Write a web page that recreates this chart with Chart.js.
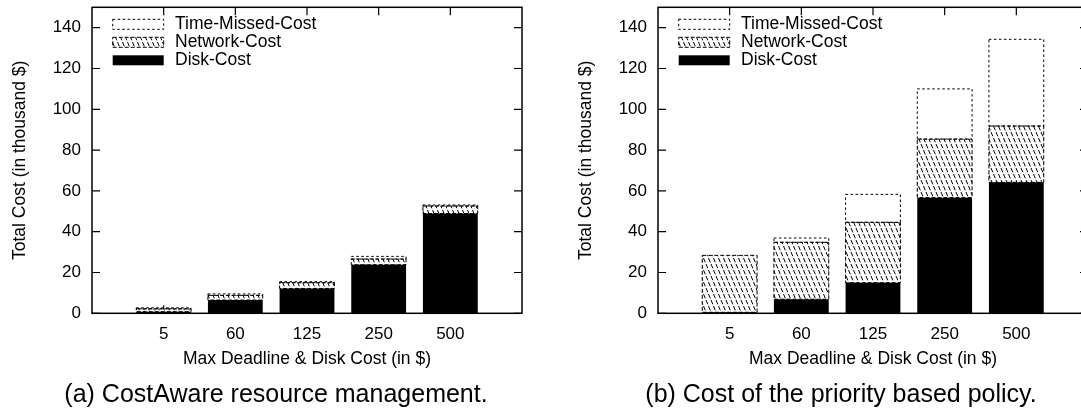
<!DOCTYPE html>
<html>
<head>
<meta charset="utf-8">
<script src="https://cdn.jsdelivr.net/npm/chart.js@4.4.1/dist/chart.umd.min.js"></script>
<style>
  html, body { margin: 0; padding: 0; background: #fff; }
  body { width: 1081px; height: 411px; overflow: hidden; position: relative; font-family: 'Liberation Sans', Arial, sans-serif; }
  canvas { position: absolute; top: 0; }
  #chart-a { left: 0; }
  #chart-b { left: 566px; }
  .caption { position: absolute; top: 378px; width: 540px; text-align: center; font-size: 25px; line-height: 30px; color: #000; white-space: nowrap; }
</style>
</head>
<body>
<canvas id="chart-a" width="540" height="411"></canvas>
<canvas id="chart-b" width="540" height="411"></canvas>
<div class="caption" style="left:6px">(a) CostAware resource management.</div>
<div class="caption" style="left:571px">(b) Cost of the priority based policy.</div>
<script>
const categories = ['5', '60', '125', '250', '500'];
const yTicks = [0, 20, 40, 60, 80, 100, 120, 140];
const seriesNames = ['Disk-Cost', 'Network-Cost', 'Time-Missed-Cost'];

// (a) CostAware resource management (thousand $)
const diskA = [0.8, 6.5, 12.2, 23.8, 48.9];
const networkA = [1.4, 2.3, 2.8, 2.8, 3.7];
const timeA = [0.5, 0.7, 0.5, 1.3, 0.5];

// (b) priority based policy (thousand $)
const diskB = [0.5, 6.9, 15.0, 56.7, 64.2];
const networkB = [27.9, 27.9, 29.6, 28.7, 27.6];
const timeB = [0, 2.1, 13.7, 24.6, 42.5];

const FONT = "'Liberation Sans', Arial, Helvetica, sans-serif";

// steep "\\\\" hatch with dashed strokes, like the gnuplot fill pattern
function hatchPattern() {
  const c = document.createElement('canvas');
  c.width = 10; c.height = 24;
  const g = c.getContext('2d');
  g.fillStyle = '#fff';
  g.fillRect(0, 0, 10, 24);
  g.strokeStyle = '#000';
  g.lineWidth = 1;
  const seg = Math.hypot(10, 24) / 4;
  g.setLineDash([seg * 0.72, seg * 0.28]);
  for (let k = -10; k <= 10; k += 5) {
    g.beginPath(); g.moveTo(k, 0); g.lineTo(k + 10, 24); g.stroke();
  }
  return g.createPattern(c, 'repeat');
}
const hatch = hatchPattern();

// frame, inward ticks, dashed bar outlines and the key inside the plot
const costPlot = {
  id: 'costPlot',
  beforeDatasetsDraw(chart) {
    const { ctx, chartArea: a, scales: { x } } = chart;
    ctx.save();
    ctx.strokeStyle = '#000';
    ctx.lineWidth = 1.2;
    categories.forEach((c, i) => {
      const px = x.getPixelForValue(i + 1);
      ctx.beginPath();
      ctx.moveTo(px, a.bottom); ctx.lineTo(px, a.bottom - 8);
      ctx.moveTo(px, a.top); ctx.lineTo(px, a.top + 8);
      ctx.stroke();
    });
    ctx.restore();
  },
  afterDatasetsDraw(chart) {
    const { ctx, chartArea: a, scales: { y } } = chart;
    ctx.save();
    ctx.strokeStyle = '#000';
    ctx.lineWidth = 1;
    chart.data.datasets.forEach((ds, i) => {
      if (!ds.dash) return;
      chart.getDatasetMeta(i).data.forEach(bar => {
        const { x, y: top, base, width } = bar.getProps(['x', 'y', 'base', 'width'], true);
        const h = Math.abs(base - top);
        if (!isFinite(h) || h < 0.3) return;
        ctx.setLineDash(ds.dash);
        ctx.strokeRect(x - width / 2, Math.min(top, base), width, h);
      });
    });
    ctx.setLineDash([]);

    ctx.lineWidth = 1.5;
    ctx.strokeRect(a.left, a.top, a.right - a.left, a.bottom - a.top);
    ctx.lineWidth = 1.2;
    yTicks.forEach(v => {
      const py = y.getPixelForValue(v);
      ctx.beginPath();
      ctx.moveTo(a.left, py); ctx.lineTo(a.left + 8, py);
      ctx.moveTo(a.right, py); ctx.lineTo(a.right - 8, py);
      ctx.stroke();
    });

    // key
    const items = chart.data.datasets.slice().reverse();
    ctx.font = '17.5px ' + FONT;
    ctx.textBaseline = 'middle';
    items.forEach((ds, k) => {
      const cy = a.top + 17 + k * 18;
      const sx = a.left + 20.7, sw = 51, sh = 10;
      ctx.fillStyle = ds.backgroundColor;
      ctx.fillRect(sx, cy - sh / 2, sw, sh);
      if (ds.dash) {
        ctx.lineWidth = 1;
        ctx.setLineDash(ds.dash);
        ctx.strokeRect(sx, cy - sh / 2, sw, sh);
        ctx.setLineDash([]);
      }
      ctx.fillStyle = '#000';
      ctx.fillText(ds.label, a.left + 83, cy);
    });
    ctx.restore();
  }
};

function makeChart(id, disk, network, time) {
  const pad = arr => [null, ...arr, null];
  const labels = ['', ...categories, ''];
  return new Chart(document.getElementById(id), {
    type: 'bar',
    data: {
      labels,
      datasets: [
        { label: seriesNames[0], data: pad(disk), backgroundColor: '#000' },
        { label: seriesNames[1], data: pad(network), backgroundColor: hatch, dash: [4, 2] },
        { label: seriesNames[2], data: pad(time), backgroundColor: '#fff', dash: [2.5, 2.5] }
      ]
    },
    options: {
      responsive: false,
      animation: false,
      events: [],
      layout: { padding: { top: 7.3, right: 18, bottom: 0, left: 0 } },
      datasets: { bar: { categoryPercentage: 1, barPercentage: 0.765, borderWidth: 0 } },
      plugins: { legend: { display: false }, tooltip: { enabled: false } },
      scales: {
        x: {
          stacked: true,
          offset: false,
          grid: { display: false, drawTicks: false },
          border: { display: false },
          ticks: { color: '#000', font: { family: FONT, size: 17 }, padding: 10.5, maxRotation: 0, autoSkip: false },
          title: { display: true, text: 'Max Deadline & Disk Cost (in $)', color: '#000', font: { family: FONT, size: 17.5 }, padding: { top: 0, bottom: 41 } },
          afterFit: s => { s.height = 97.7; s.paddingLeft = 0; s.paddingRight = 0; }
        },
        y: {
          stacked: true,
          min: 0,
          max: 150,
          grid: { display: false, drawTicks: false },
          border: { display: false },
          afterBuildTicks: s => { s.ticks = yTicks.map(v => ({ value: v })); },
          ticks: { color: '#000', font: { family: FONT, size: 17 }, padding: 11 },
          title: { display: true, text: 'Total Cost (in thousand $)', color: '#000', font: { family: FONT, size: 17.5 }, padding: { top: 9.3, bottom: 0 } },
          afterFit: s => { s.width = 92; s.paddingTop = 0; s.paddingBottom = 0; }
        }
      }
    },
    plugins: [costPlot]
  });
}

makeChart('chart-a', diskA, networkA, timeA);
makeChart('chart-b', diskB, networkB, timeB);
</script>
</body>
</html>
